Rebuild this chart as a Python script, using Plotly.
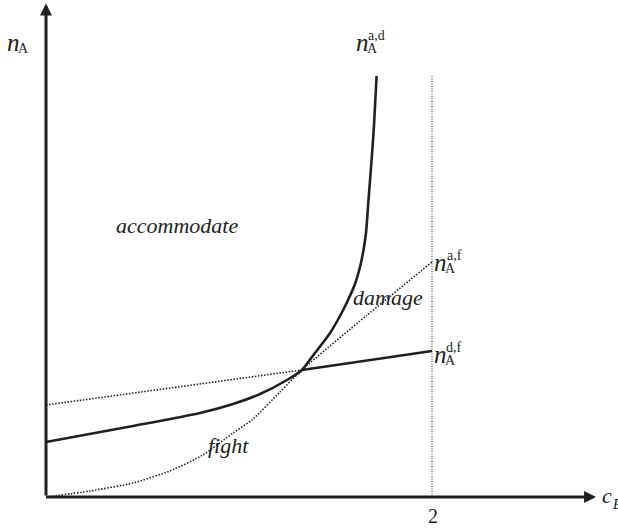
import plotly.graph_objects as go

# ---- data (x: c_E, y: n_A, arbitrary units) ----
cE_ad = [0, 0.451, 0.798, 0.969, 1.109, 1.249, 1.326, 1.378, 1.472, 1.526, 1.565, 1.601,
         1.627, 1.645, 1.658, 1.671, 1.687, 1.699, 1.713]
nA_ad = [0.55, 0.71, 0.84, 0.93, 1.03, 1.17, 1.27, 1.40, 1.64, 1.82, 1.97, 2.13,
         2.30, 2.47, 2.64, 2.97, 3.37, 3.70, 4.21]

cE_af = [0, 0.228, 0.451, 0.642, 0.813, 0.969, 1.073, 1.212, 1.326, 1.658, 2.0]
nA_af = [0, 0.06, 0.14, 0.26, 0.42, 0.64, 0.78, 1.05, 1.27, 1.81, 2.35]

cE_df_left = [0, 1.326]
nA_df_left = [0.92, 1.27]
cE_df_right = [1.326, 2.0]
nA_df_right = [1.27, 1.46]

cE_limit = [2, 2]
nA_limit = [0, 4.22]

x_tick = 2
x_max, y_max = 2.85, 4.935

INK = "#231f20"
SERIF = "Liberation Serif, Times New Roman, serif"
W, H = 618, 531

fig = go.Figure()
fig.add_trace(go.Scatter(x=cE_limit, y=nA_limit, mode="lines",
                         line=dict(color=INK, width=1, dash="1px,1.5px")))
fig.add_trace(go.Scatter(x=cE_df_left, y=nA_df_left, mode="lines",
                         line=dict(color=INK, width=1.6, dash="1.5px,1.6px")))
fig.add_trace(go.Scatter(x=cE_af, y=nA_af, mode="lines",
                         line=dict(color=INK, width=1.6, dash="1.5px,1.6px",
                                   shape="spline", smoothing=0.6)))
fig.add_trace(go.Scatter(x=cE_df_right, y=nA_df_right, mode="lines",
                         line=dict(color=INK, width=2.6)))
fig.add_trace(go.Scatter(x=cE_ad, y=nA_ad, mode="lines",
                         line=dict(color=INK, width=2.6, shape="spline", smoothing=0.6)))

ann = []
# axis arrows
ann.append(dict(x=0, y=y_max, ax=0, ay=0, xref="x", yref="y", axref="x", ayref="y",
                showarrow=True, arrowhead=2, arrowsize=0.8, arrowwidth=3, arrowcolor=INK,
                standoff=0, startstandoff=0, text=""))
ann.append(dict(x=x_max, y=0, ax=-0.0078, ay=0, xref="x", yref="y", axref="x", ayref="y",
                showarrow=True, arrowhead=2, arrowsize=0.8, arrowwidth=3, arrowcolor=INK,
                standoff=0, startstandoff=0, text=""))


def txt(s, px, py, size, italic=False):
    if italic:
        s = "<i>" + s + "</i>"
    ann.append(dict(text=s, x=px / W, y=1 - py / H, xref="paper", yref="paper",
                    xanchor="center", yanchor="middle", showarrow=False,
                    font=dict(family=SERIF, size=size, color=INK)))


def nlabel(px, py, sup):
    txt("n", px, py - 2, 25, True)
    txt("A", px + 10, py + 4, 14)
    if sup:
        txt(sup, px + 14, py - 9, 14)


nlabel(13.5, 44, "")
nlabel(362, 44, "a,d")
nlabel(440, 264, "a,f")
nlabel(440, 356, "d,f")

txt("c", 606.5, 495.5, 22, True)
txt("E", 617, 504, 14, True)
txt(str(x_tick), 433, 516, 20)

txt("accommodate", 177, 225, 22, True)
txt("damage", 388, 297, 22, True)
txt("fight", 228, 445, 22, True)

x0 = -46 / 193
fig.update_layout(
    width=W, height=H,
    margin=dict(l=0, r=0, t=0, b=0),
    paper_bgcolor="white", plot_bgcolor="white",
    showlegend=False,
    xaxis=dict(range=[x0, x0 + W / 193], visible=False, fixedrange=True),
    yaxis=dict(range=[(497 - H) / 100, 497 / 100], visible=False, fixedrange=True),
    annotations=ann,
)

fig.write_html("out.html", config={"displayModeBar": False},
               post_script="document.body.style.margin='0';document.body.style.overflow='hidden';")
